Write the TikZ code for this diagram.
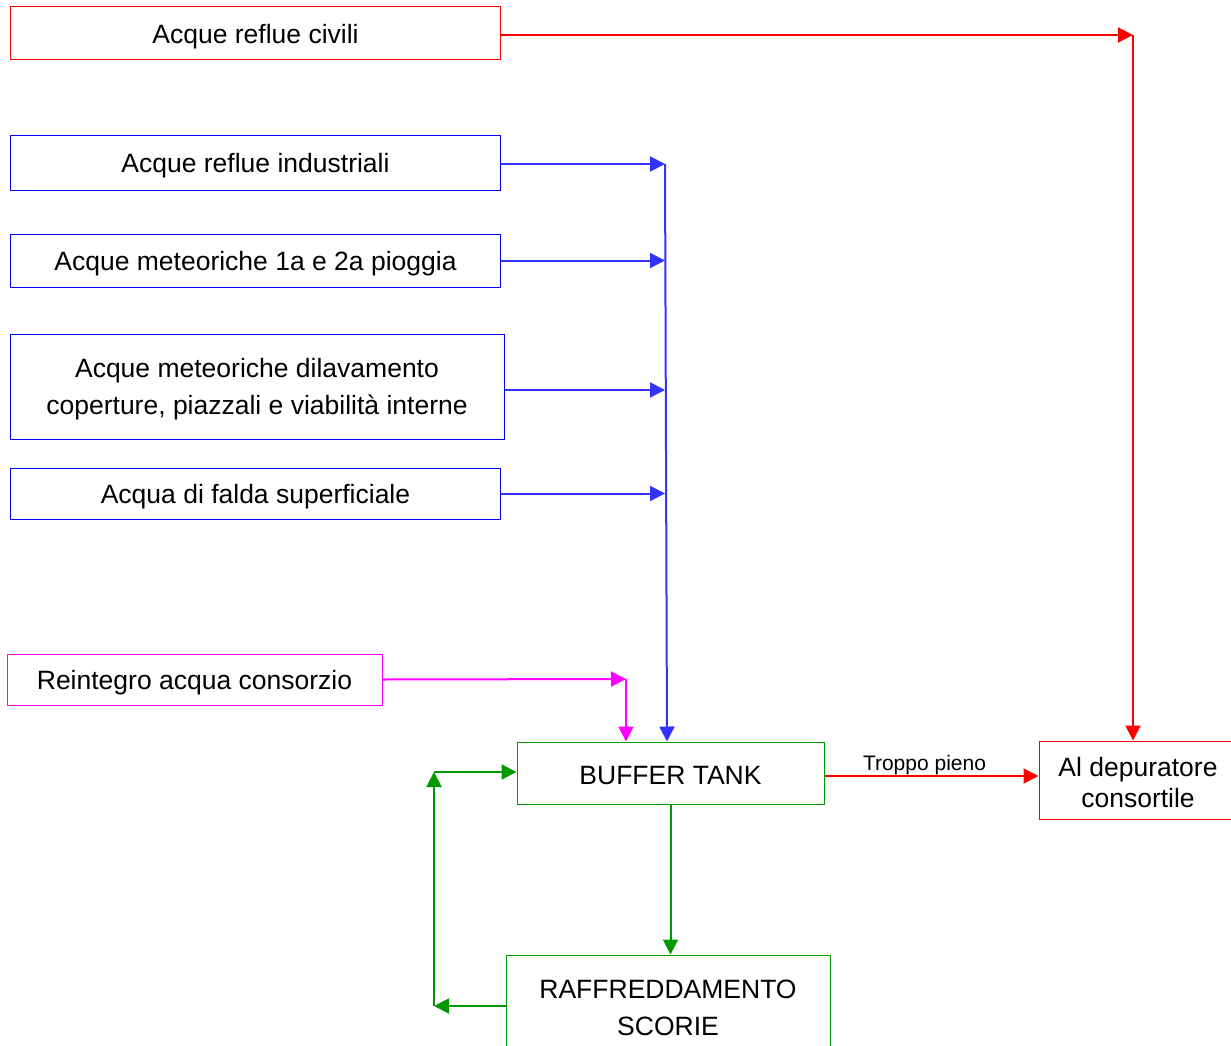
\documentclass[tikz,border=0pt]{standalone}
\usepackage{fontspec}
\setmainfont{Liberation Sans}
\usetikzlibrary{arrows.meta}
\definecolor{rosso}{RGB}{255,0,0}
\definecolor{blu}{RGB}{0,0,255}
\definecolor{bluchiaro}{RGB}{51,51,255}
\definecolor{magenta}{RGB}{255,0,255}
\definecolor{verde}{RGB}{0,153,0}
% abbassa il testo senza cambiarne l'ingombro
\newcommand{\giu}[1]{\raisebox{-3pt}[\height][\depth]{#1}}
\begin{document}
\begin{tikzpicture}[x=1pt,y=-1pt,
    box/.style={draw, line width=1pt, inner sep=0pt, align=center,
        font=\fontsize{26.5}{37}\selectfont},
    flow/.style={line width=2pt, -{Triangle[length=15pt,width=15pt]}}]
    \useasboundingbox (0,0) rectangle (1231,1046);
    % blocchi di ingresso
    \node[box, rosso, text=black, minimum width=490, minimum height=53] (civili) at (255.5,33.5) {\giu{Acque reflue civili}};
    \node[box, blu, text=black, minimum width=490, minimum height=54] (industriali) at (255.5,163) {\giu{Acque reflue industriali}};
    \node[box, blu, text=black, minimum width=490, minimum height=53] (pioggia) at (255.5,260.5) {\giu{Acque meteoriche 1a e 2a pioggia}};
    \node[box, blu, text=black, minimum width=494, minimum height=105] (dilavamento) at (257,386.5) {\giu{Acque meteoriche dilavamento}\\\giu{coperture, piazzali e viabilità interne}};
    \node[box, blu, text=black, minimum width=490, minimum height=51] (falda) at (255.5,493.5) {\giu{Acqua di falda superficiale}};
    \node[box, magenta, text=black, minimum width=375, minimum height=51] (reintegro) at (194.5,679.5) {\giu{Reintegro acqua consorzio}};
    % vasca e raffreddamento
    \node[box, verde, text=black, minimum width=307, minimum height=62] (buffer) at (670.5,773) {\giu{BUFFER TANK}};
    \node[box, verde, text=black, minimum width=324, minimum height=106] (raff) at (668,1008) {RAFFREDDAMENTO\\SCORIE};
    \node[box, rosso, text=black, minimum width=198, minimum height=78,
        font=\fontsize{26.5}{31}\selectfont] (depuratore) at (1138,780) {\giu{Al depuratore}\\\giu{consortile}};
    % nodi di raccordo
    \coordinate (rj) at (1133,35);
    \coordinate (bj) at (665,164);
    \coordinate (mj) at (626,679);
    \coordinate (gb) at (434,1006);
    \coordinate (gt) at (434,772);
    % linea rossa
    \draw[flow, rosso] (civili.east |- rj) -- (rj);
    \draw[flow, rosso] (rj) -- (rj |- depuratore.north);
    % linee blu
    \draw[flow, bluchiaro] (industriali.east |- bj) -- (bj);
    \draw[flow, bluchiaro] (pioggia.east) -- (pioggia.east -| bj);
    \draw[flow, bluchiaro] ([yshift=-3.5]dilavamento.east) -- ([yshift=-3.5]dilavamento.east -| bj);
    \draw[flow, bluchiaro] (falda.east) -- (falda.east -| bj);
    \draw[flow, bluchiaro] (bj) -- ([xshift=2pt]bj |- buffer.north);
    % reintegro
    \draw[flow, magenta] (reintegro.east) -- (mj);
    \draw[flow, magenta] (mj) -- (mj |- buffer.north);
    % circuito verde
    \draw[flow, verde] (buffer.south) -- (buffer.south |- raff.north);
    \draw[flow, verde] (gb -| raff.west) -- (gb);
    \draw[flow, verde] (gb) -- (gt);
    \draw[flow, verde] (gt) -- (gt -| buffer.west);
    % troppo pieno
    \draw[flow, rosso] ([yshift=-3]buffer.east) -- ([yshift=-3]buffer.east -| depuratore.west)
        node[midway, above, xshift=-7, inner sep=0pt, black, font=\fontsize{21}{25}\selectfont] {Troppo pieno};
\end{tikzpicture}
\end{document}
